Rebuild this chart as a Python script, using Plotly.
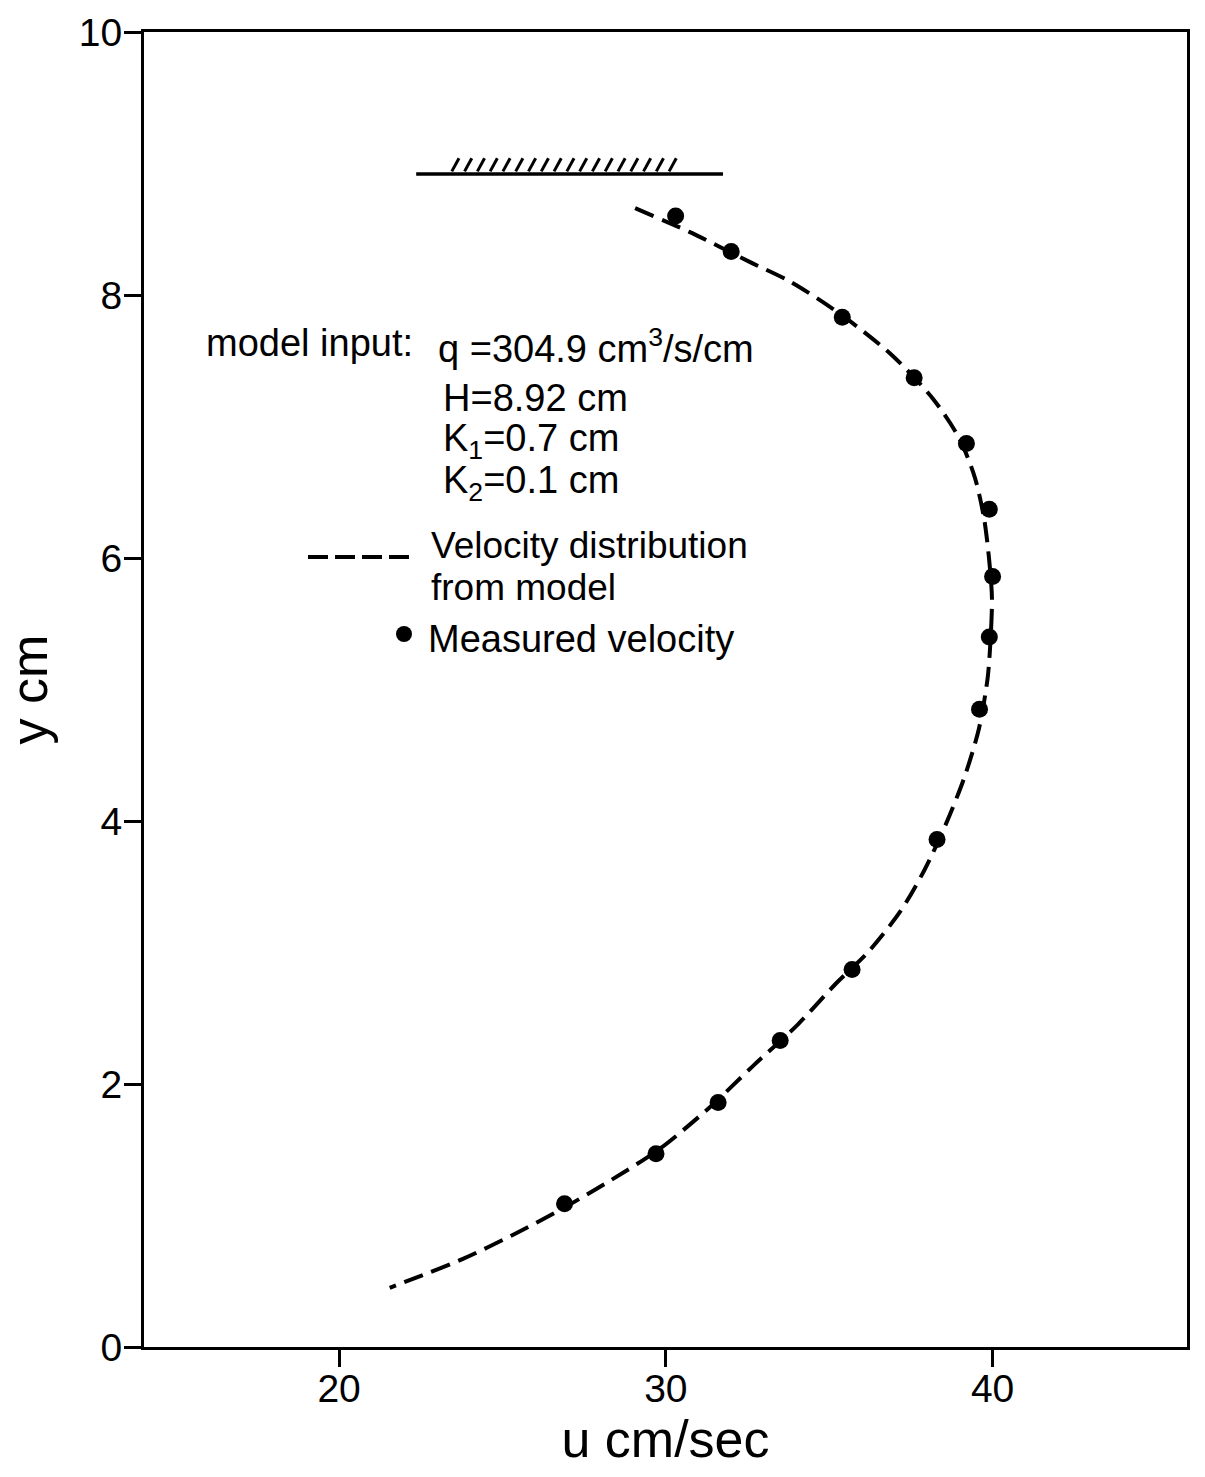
import plotly.graph_objects as go

# ---------------- data ----------------
# Measured velocity (dots)
u_measured = [30.3, 32.0, 35.4, 37.6, 39.2, 39.9, 40.0, 39.9, 39.6, 38.3, 35.7, 33.5, 31.6, 29.7, 26.9]
y_measured = [8.60, 8.33, 7.83, 7.37, 6.87, 6.37, 5.86, 5.40, 4.85, 3.86, 2.87, 2.33, 1.86, 1.47, 1.09]

# Velocity distribution from model (dashed curve)
u_model = [29.06, 30.72, 32.58, 33.82, 35.37, 36.93, 38.18, 38.98, 39.46, 39.74, 39.89, 39.98,
           39.94, 39.85, 39.58, 39.12, 38.49, 37.90, 37.17, 36.18, 35.23, 34.03, 32.68, 31.33,
           29.83, 28.33, 26.82, 25.30, 23.79, 22.28, 21.55]
y_model = [8.66, 8.48, 8.25, 8.10, 7.85, 7.54, 7.21, 6.91, 6.61, 6.30, 6.00, 5.70,
           5.39, 5.09, 4.70, 4.32, 3.93, 3.62, 3.31, 3.00, 2.77, 2.45, 2.14, 1.82,
           1.51, 1.27, 1.05, 0.85, 0.67, 0.52, 0.45]

# Upper boundary (H = 8.92 cm) drawn as hatched wall
wall_y = 8.92
wall_u = [22.36, 31.75]
hatch_u = [23.55, 30.2]
n_hatch = 18

x_ticks = [20, 30, 40]
y_ticks = [0, 2, 4, 6, 8, 10]
x_range = [14.03, 45.95]
y_range = [0, 10]

# ---------------- layout geometry ----------------
W, H = 1205, 1477
ML, MR, MT, MB = 144, 18, 32, 130
PW, PH = W - ML - MR, H - MT - MB
FONT = "Liberation Sans, Arial, Helvetica, sans-serif"


def px(x):
    return (x - ML) / PW


def py(y):
    return (MT + PH - y) / PH


fig = go.Figure()

# model curve
fig.add_trace(go.Scatter(
    x=u_model, y=y_model, mode="lines",
    line=dict(color="black", width=4, dash="20px,9px", shape="spline", smoothing=0.8),
    showlegend=False, hoverinfo="skip"))

# measured points
fig.add_trace(go.Scatter(
    x=u_measured, y=y_measured, mode="markers",
    marker=dict(color="black", size=17, symbol="circle"),
    showlegend=False))

# wall line
fig.add_trace(go.Scatter(
    x=wall_u, y=[wall_y, wall_y], mode="lines",
    line=dict(color="black", width=3.5), showlegend=False, hoverinfo="skip"))

# hatch marks
hx, hy = [], []
step = (hatch_u[1] - hatch_u[0]) / (n_hatch - 1)
for i in range(n_hatch):
    u0 = hatch_u[0] + i * step - 0.1
    hx += [u0, u0 + 0.22, None]
    hy += [wall_y + 0.02, wall_y + 0.12, None]
fig.add_trace(go.Scatter(
    x=hx, y=hy, mode="lines", line=dict(color="black", width=3),
    showlegend=False, hoverinfo="skip"))

# ---------------- annotations ----------------
def text(x, y, s, size=38):
    fig.add_annotation(x=px(x), y=py(y), xref="paper", yref="paper",
                       text=s, showarrow=False, xanchor="left", yanchor="middle",
                       font=dict(family=FONT, size=size, color="black"))


text(204, 343, "model input:")
text(436, 346, "q =304.9 cm<sup>3</sup>/s/cm")
text(441, 398, "H=8.92 cm")
text(441, 441, "K<sub>1</sub>=0.7 cm")
text(441, 483, "K<sub>2</sub>=0.1 cm")
text(429, 545, "Velocity distribution", size=37)
text(429, 587, "from model", size=37)
text(426, 639, "Measured velocity")

# legend dash sample
fig.add_shape(type="line", xref="paper", yref="paper",
              x0=px(308), x1=px(410), y0=py(557), y1=py(557),
              line=dict(color="black", width=4, dash="20px,7px"))
# legend bullet
fig.add_shape(type="circle", xref="paper", yref="paper",
              xsizemode="pixel", ysizemode="pixel",
              xanchor=px(404), yanchor=py(634),
              x0=-8, x1=8, y0=-8, y1=8,
              fillcolor="black", line=dict(color="black", width=0))

axis_common = dict(
    showline=True, linecolor="black", linewidth=3, mirror=True,
    ticks="outside", ticklen=17, tickwidth=3, tickcolor="black",
    showgrid=False, zeroline=False,
    tickfont=dict(family=FONT, size=39, color="black"),
)

fig.update_xaxes(range=x_range, tickvals=x_ticks, ticklabelstandoff=-12,
                 title=dict(text="u cm/sec", font=dict(family=FONT, size=52, color="black"), standoff=4),
                 **axis_common)
fig.update_yaxes(range=y_range, tickvals=y_ticks, ticklabelstandoff=-6,
                 title=dict(text="y cm", font=dict(family=FONT, size=52, color="black"), standoff=24),
                 **axis_common)

fig.update_layout(
    width=W, height=H,
    margin=dict(l=ML, r=MR, t=MT, b=MB, autoexpand=False),
    paper_bgcolor="white", plot_bgcolor="white",
    showlegend=False,
)

fig.write_html("out.html")
